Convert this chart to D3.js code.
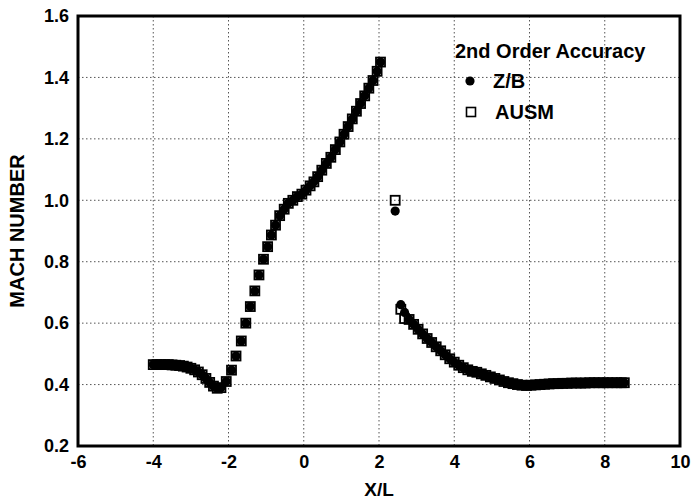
<!DOCTYPE html>
<html>
<head>
<meta charset="utf-8">
<script src="https://cdn.jsdelivr.net/npm/d3@7"></script>
<style>
  html, body { margin: 0; padding: 0; background: #fff; }
  svg { display: block; font-family: "Liberation Sans", Arial, Helvetica, sans-serif; font-weight: bold; }
</style>
</head>
<body>
<div id="chart"></div>
<script>
// tick labels
const xTicks = [-6, -4, -2, 0, 2, 4, 6, 8, 10];
const yTicks = [0.2, 0.4, 0.6, 0.8, 1.0, 1.2, 1.4, 1.6];

// Z/B (filled circles)
const zbX = [-4.0, -3.9, -3.8, -3.7, -3.6, -3.5, -3.4, -3.3, -3.2, -3.1, -3.0, -2.9, -2.8, -2.7, -2.6, -2.5, -2.4, -2.3, -2.2,
  -2.06, -1.92, -1.8, -1.66, -1.54, -1.42, -1.3, -1.19, -1.07, -0.96, -0.86, -0.75, -0.64, -0.52, -0.41, -0.29, -0.17, -0.05,
  0.06, 0.17, 0.27, 0.37, 0.48, 0.6, 0.72, 0.84, 0.96, 1.07, 1.18, 1.29, 1.4, 1.51, 1.62, 1.73, 1.84, 1.95, 2.04,
  2.43,
  2.58, 2.68, 2.8, 2.92, 3.04, 3.16, 3.28, 3.4, 3.52, 3.64, 3.76, 3.88, 4.0, 4.12, 4.24, 4.36, 4.48, 4.6, 4.72, 4.84, 4.96,
  5.08, 5.2, 5.32, 5.44, 5.56, 5.68, 5.8, 5.92, 6.04, 6.16, 6.28, 6.4, 6.52, 6.64, 6.76, 6.88, 7.0, 7.12, 7.24, 7.36, 7.48,
  7.6, 7.72, 7.84, 7.96, 8.08, 8.2, 8.32, 8.44, 8.52];
const zbM = [0.465, 0.465, 0.465, 0.465, 0.465, 0.464, 0.463, 0.462, 0.46, 0.457, 0.453, 0.448, 0.441, 0.432, 0.42, 0.407, 0.395, 0.388, 0.39,
  0.41, 0.447, 0.493, 0.542, 0.6, 0.654, 0.705, 0.757, 0.808, 0.849, 0.887, 0.919, 0.95, 0.971, 0.99, 1.0, 1.012, 1.02,
  1.033, 1.047, 1.06, 1.077, 1.098, 1.12, 1.14, 1.165, 1.19, 1.215, 1.24, 1.265, 1.29, 1.315, 1.34, 1.365, 1.39, 1.42, 1.45,
  0.965,
  0.66, 0.635, 0.612, 0.596, 0.58, 0.565, 0.55, 0.537, 0.523, 0.51, 0.497, 0.484, 0.473, 0.463, 0.455, 0.448, 0.443, 0.44, 0.435, 0.43, 0.425,
  0.42, 0.415, 0.41, 0.406, 0.403, 0.4, 0.398, 0.397, 0.398, 0.399, 0.4, 0.401, 0.402, 0.403, 0.403, 0.404, 0.404, 0.405, 0.405, 0.405, 0.405,
  0.406, 0.406, 0.406, 0.406, 0.406, 0.406, 0.406, 0.406, 0.406];

// AUSM (open squares): same grid, differs only around the shock
const ausmX = zbX.slice();
const ausmShockX = [2.43, 2.58, 2.68];
const ausmShockM = [1.0, 0.645, 0.615];
const ausmM = zbM.map((m, i) => {
  const k = ausmShockX.indexOf(zbX[i]);
  return k >= 0 ? ausmShockM[k] : m;
});

const W = 694, H = 502;
const svg = d3.select("#chart").append("svg")
  .attr("width", W).attr("height", H)
  .attr("viewBox", `0 0 ${W} ${H}`);

const x = d3.scaleLinear().domain([-6, 10]).range([78, 680]);
const y = d3.scaleLinear().domain([0.2, 1.6]).range([446, 16]);

// grid
const grid = svg.append("g").attr("class", "grid")
  .attr("stroke", "#555").attr("stroke-width", 1).attr("stroke-dasharray", "1.5,2.5");
grid.selectAll(".gx").data(xTicks.slice(1, -1)).enter().append("line")
  .attr("x1", d => x(d)).attr("x2", d => x(d))
  .attr("y1", y(1.6)).attr("y2", y(0.2));
grid.selectAll(".gy").data(yTicks.slice(1, -1)).enter().append("line")
  .attr("x1", x(-6)).attr("x2", x(10))
  .attr("y1", d => y(d)).attr("y2", d => y(d));

// axes labels
const xAxis = svg.append("g")
  .attr("transform", `translate(0,${y(0.2)})`)
  .call(d3.axisBottom(x).tickValues(xTicks).tickSize(0).tickPadding(9).tickFormat(d => String(d)));
xAxis.select(".domain").remove();
xAxis.selectAll("text").attr("font-size", 18).attr("font-weight", "bold")
  .attr("font-family", "'Liberation Sans', Arial, sans-serif").attr("fill", "#000");

const yAxis = svg.append("g")
  .attr("transform", `translate(${x(-6)},0)`)
  .call(d3.axisLeft(y).tickValues(yTicks).tickSize(0).tickPadding(9).tickFormat(d3.format(".1f")));
yAxis.select(".domain").remove();
yAxis.selectAll("text").attr("font-size", 18).attr("font-weight", "bold")
  .attr("font-family", "'Liberation Sans', Arial, sans-serif").attr("fill", "#000");

svg.append("text").attr("x", 379).attr("y", 496)
  .attr("text-anchor", "middle").attr("font-size", 19).text("X/L");
svg.append("text").attr("transform", `translate(24,${(y(0.2) + y(1.6)) / 2}) rotate(-90)`)
  .attr("text-anchor", "middle").attr("font-size", 20).text("MACH NUMBER");

// data: squares first, circles on top
const sq = 9;
svg.append("g").selectAll("rect").data(d3.range(ausmX.length)).enter().append("rect")
  .attr("x", i => x(ausmX[i]) - sq / 2).attr("y", i => y(ausmM[i]) - sq / 2)
  .attr("width", sq).attr("height", sq)
  .attr("fill", "none").attr("stroke", "#000").attr("stroke-width", 1.8);
svg.append("g").selectAll("circle").data(d3.range(zbX.length)).enter().append("circle")
  .attr("cx", i => x(zbX[i])).attr("cy", i => y(zbM[i])).attr("r", 4.6)
  .attr("fill", "#000");

// frame
svg.append("rect").attr("x", x(-6)).attr("y", y(1.6))
  .attr("width", x(10) - x(-6)).attr("height", y(0.2) - y(1.6))
  .attr("fill", "none").attr("stroke", "#000").attr("stroke-width", 3);

// legend
const lg = svg.append("g");
lg.append("text").attr("x", 455).attr("y", 58).attr("font-size", 20).text("2nd Order Accuracy");
lg.append("circle").attr("cx", 470).attr("cy", 81).attr("r", 4.6).attr("fill", "#000");
lg.append("text").attr("x", 493).attr("y", 88).attr("font-size", 20).text("Z/B");
lg.append("rect").attr("x", 471 - sq / 2).attr("y", 112 - sq / 2).attr("width", sq).attr("height", sq)
  .attr("fill", "#fff").attr("stroke", "#000").attr("stroke-width", 1.6);
lg.append("text").attr("x", 495).attr("y", 119).attr("font-size", 20).text("AUSM");
</script>
</body>
</html>
